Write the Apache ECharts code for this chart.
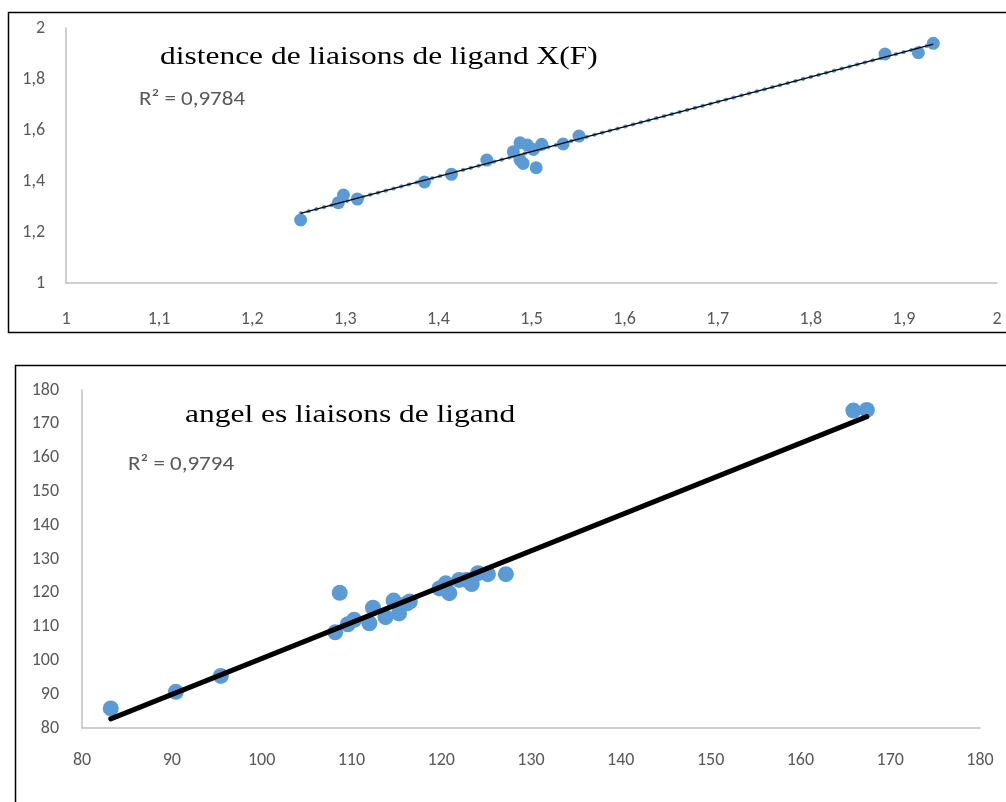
<!DOCTYPE html>
<html>
<head>
<meta charset="utf-8">
<script src="https://cdn.jsdelivr.net/npm/echarts@6/dist/echarts.min.js"></script>
<style>
  html, body { margin: 0; padding: 0; background: #fff; }
  #chart { width: 1006px; height: 802px; }
</style>
</head>
<body>
<div id="chart"></div>
<script>
// Bond distances of ligand X(F): computed vs reference (Å)
const distX = [1.252, 1.2925, 1.298, 1.313, 1.385, 1.414, 1.452, 1.4805, 1.4877, 1.4955, 1.4877, 1.491, 1.502, 1.505, 1.511, 1.534, 1.551, 1.8797, 1.9155, 1.9316];
const distY = [1.247, 1.315, 1.345, 1.329, 1.396, 1.426, 1.482, 1.515, 1.550, 1.541, 1.482, 1.469, 1.524, 1.452, 1.544, 1.545, 1.576, 1.898, 1.903, 1.940];

// Bond angles of ligand: computed vs reference (degrees)
const angX = [83.2, 90.45, 95.46, 108.2, 108.7, 109.6, 110.3, 112.0, 112.4, 113.8, 114.7, 115.3, 116.2, 116.5, 119.8, 120.5, 120.9, 122.0, 122.8, 123.4, 124.1, 125.2, 127.2, 165.9, 167.4];
const angY = [85.8, 90.7, 95.4, 108.3, 120.0, 110.7, 112.0, 111.0, 115.6, 112.8, 117.7, 113.9, 116.9, 117.4, 121.3, 122.8, 119.9, 123.8, 123.8, 122.6, 125.8, 125.5, 125.5, 173.9, 174.1];

const distTicks = [1, 1.1, 1.2, 1.3, 1.4, 1.5, 1.6, 1.7, 1.8, 1.9, 2];
const angTicks = [80, 90, 100, 110, 120, 130, 140, 150, 160, 170, 180];

const distTitle = 'distence de liaisons de ligand X(F)';
const angTitle = 'angel es liaisons de ligand';
const distR2 = 'R² = 0,9784';
const angR2 = 'R² = 0,9794';

function pairs(xs, ys) { return xs.map((x, i) => [x, ys[i]]); }

// Least-squares linear trend through the points, spanning the x range
function trend(xs, ys) {
  const n = xs.length;
  const mx = xs.reduce((a, b) => a + b, 0) / n;
  const my = ys.reduce((a, b) => a + b, 0) / n;
  let sxy = 0, sxx = 0;
  for (let i = 0; i < n; i++) { sxy += (xs[i] - mx) * (ys[i] - my); sxx += (xs[i] - mx) ** 2; }
  const b = sxy / sxx, a = my - b * mx;
  const x0 = Math.min(...xs), x1 = Math.max(...xs);
  return [[x0, a + b * x0], [x1, a + b * x1]];
}

const fmt = v => String(Math.round(v * 100) / 100).replace('.', ',');
const labelFont = { color: '#595959', fontSize: 18, fontFamily: 'Carlito, Lato, sans-serif' };
const axisLine = { show: true, lineStyle: { color: '#bfbfbf', width: 1.5 } };
const serif = '26px "Liberation Serif", "Times New Roman", serif';
const sans = '20px Carlito, Lato, sans-serif';

const chart = echarts.init(document.getElementById('chart'));
chart.setOption({
  animation: false,
  backgroundColor: '#fff',
  grid: [
    { left: 66, top: 28, width: 931, height: 255 },
    { left: 82, top: 390, width: 898, height: 338 }
  ],
  xAxis: [
    { gridIndex: 0, type: 'value', min: distTicks[0], max: distTicks[distTicks.length - 1], interval: 0.1,
      axisLine: axisLine, axisTick: { show: false }, splitLine: { show: false },
      axisLabel: Object.assign({ margin: 27, formatter: fmt }, labelFont) },
    { gridIndex: 1, type: 'value', min: angTicks[0], max: angTicks[angTicks.length - 1], interval: 10,
      axisLine: axisLine, axisTick: { show: false }, splitLine: { show: false },
      axisLabel: Object.assign({ margin: 23 }, labelFont) }
  ],
  yAxis: [
    { gridIndex: 0, type: 'value', min: 1, max: 2, interval: 0.2,
      axisLine: axisLine, axisTick: { show: false }, splitLine: { show: false },
      axisLabel: Object.assign({ margin: 21, formatter: fmt }, labelFont) },
    { gridIndex: 1, type: 'value', min: 80, max: 180, interval: 10,
      axisLine: axisLine, axisTick: { show: false }, splitLine: { show: false },
      axisLabel: Object.assign({ margin: 23 }, labelFont) }
  ],
  series: [
    { type: 'scatter', xAxisIndex: 0, yAxisIndex: 0, data: pairs(distX, distY),
      symbolSize: 13, itemStyle: { color: '#5b9bd5', opacity: 1 }, z: 2 },
    { type: 'line', xAxisIndex: 0, yAxisIndex: 0, data: trend(distX, distY), symbol: 'none',
      lineStyle: { color: '#5b9bd5', width: 4, type: [0.5, 7.5], cap: 'round' }, z: 3 },
    { type: 'line', xAxisIndex: 0, yAxisIndex: 0, data: trend(distX, distY), symbol: 'none',
      lineStyle: { color: '#000', width: 1.3 }, z: 4 },
    { type: 'scatter', xAxisIndex: 1, yAxisIndex: 1, data: pairs(angX, angY),
      symbolSize: 16, itemStyle: { color: '#5b9bd5', opacity: 1 }, z: 2 },
    { type: 'line', xAxisIndex: 1, yAxisIndex: 1, data: trend(angX, angY), symbol: 'none',
      lineStyle: { color: '#000', width: 5, cap: 'round' }, z: 4 }
  ],
  graphic: [
    { type: 'rect', shape: { x: 8.5, y: 12.5, width: 1010, height: 320 },
      style: { fill: 'none', stroke: '#000', lineWidth: 1.5 }, z: 10 },
    { type: 'rect', shape: { x: 15.5, y: 365.5, width: 1010, height: 460 },
      style: { fill: 'none', stroke: '#000', lineWidth: 1.5 }, z: 10 },
    { type: 'text', x: 160, y: 57, scaleX: 1.21,
      style: { text: distTitle, fill: '#000', font: serif, verticalAlign: 'middle' }, z: 10 },
    { type: 'text', x: 139, y: 100, scaleX: 1.15,
      style: { text: distR2, fill: '#595959', font: sans, verticalAlign: 'middle' }, z: 10 },
    { type: 'text', x: 185, y: 415, scaleX: 1.21,
      style: { text: angTitle, fill: '#000', font: serif, verticalAlign: 'middle' }, z: 10 },
    { type: 'text', x: 128, y: 465, scaleX: 1.15,
      style: { text: angR2, fill: '#595959', font: sans, verticalAlign: 'middle' }, z: 10 }
  ]
});
</script>
</body>
</html>
